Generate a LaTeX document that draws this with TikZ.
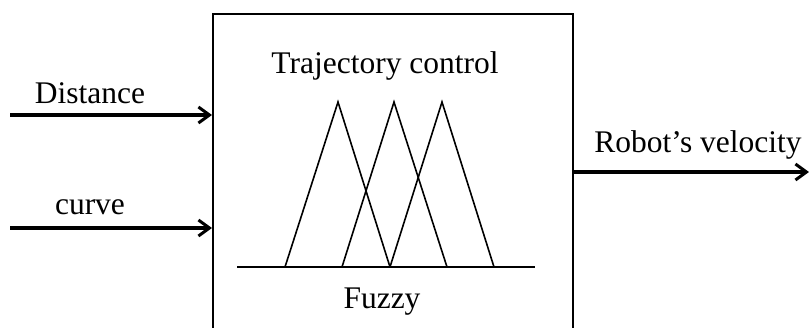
\documentclass[tikz,border=0pt]{standalone}
\usepackage{fontspec}
\setmainfont{Liberation Serif}
\usetikzlibrary{arrows.meta}
\begin{document}
\begin{tikzpicture}[x=1pt,y=-1pt,
  lbl/.style={inner sep=0pt,font=\fontsize{31.5}{36}\selectfont},
  sig/.style={line width=3.5pt,-{Straight Barb[length=11pt,width=16pt,line width=3pt]}},
  mf/.style={line width=1.6pt,line join=miter}]
\useasboundingbox (0,0) rectangle (809,327);
\node[draw,line width=1.5pt,minimum width=360pt,minimum height=330pt,anchor=north west,inner sep=0pt] (box) at (212,13) {};
\coordinate (din) at (10,115);
\coordinate (cin) at (10,228);
\coordinate (din2) at (212,115);
\coordinate (cin2) at (212,228);
\coordinate (vout1) at (572,172);
\coordinate (vout) at (809,172);
\draw[sig] (din) -- (din2);
\draw[sig] (cin) -- (cin2);
\draw[sig] (vout1) -- (vout);
\node[lbl] (dist) at (90,93) {Distance};
\node[lbl] (curve) at (90,207) {curve};
\node[lbl] (vel) at (698,145) {Robot’s velocity};
\node[lbl] (traj) at (385,66) {Trajectory control};
\node[lbl] (fuzzy) at (382,302) {Fuzzy};
\coordinate (bl) at (237,267);
\coordinate (br) at (535,267);
\draw[line width=2pt] (bl) -- (br);
\draw[mf] (285,267) -- (338,102) -- (390,267);
\draw[mf] (342,267) -- (394,102) -- (447,267);
\draw[mf] (390,267) -- (442,102) -- (494,267);
\end{tikzpicture}
\end{document}
